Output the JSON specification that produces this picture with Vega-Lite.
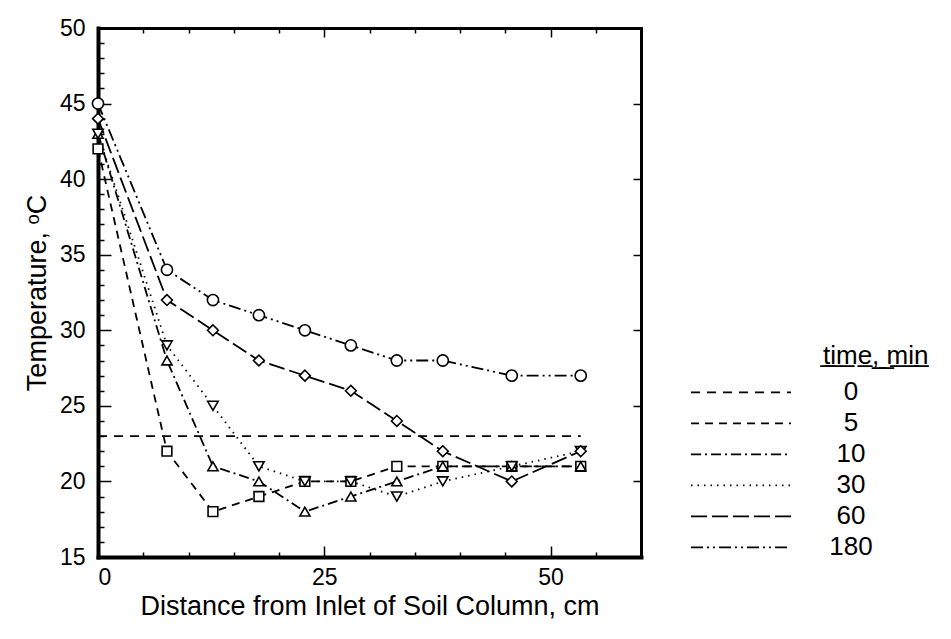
{
  "$schema": "https://vega.github.io/schema/vega-lite/v6.json",
  "width": 543,
  "height": 529,
  "autosize": "none",
  "padding": {"left": 98, "top": 28, "right": 310, "bottom": 82},
  "background": "white",
  "title": {"text": "t̲i̲m̲e̲,̲ ̲m̲i̲n̲", "anchor": "start", "frame": "group", "orient": "top", "offset": 0, "dx": 725, "dy": 373, "baseline": "alphabetic", "fontSize": 26, "fontWeight": "normal", "font": "Liberation Sans", "color": "black"},
  "config": {
    "view": {"stroke": null},
    "font": "Liberation Sans",
    "axis": {"labelColor": "black", "titleColor": "black", "tickColor": "black", "domainColor": "black", "labelFontSize": 23, "titleFontSize": 27, "titleFontWeight": "normal", "tickWidth": 1.5, "grid": false, "domainCap": "square"},
    "legend": {"labelColor": "black", "titleColor": "black", "labelFontSize": 26, "titleFontSize": 26, "titleFontWeight": "normal"}
  },
  "data": {
    "values": [
      {"t": "0", "x": 0, "y": 23}, {"t": "0", "x": 53.34, "y": 23},
      {"t": "5", "x": 0, "y": 42}, {"t": "5", "x": 7.62, "y": 22}, {"t": "5", "x": 12.7, "y": 18}, {"t": "5", "x": 17.78, "y": 19}, {"t": "5", "x": 22.86, "y": 20}, {"t": "5", "x": 27.94, "y": 20}, {"t": "5", "x": 33.02, "y": 21}, {"t": "5", "x": 38.1, "y": 21}, {"t": "5", "x": 45.72, "y": 21}, {"t": "5", "x": 53.34, "y": 21},
      {"t": "10", "x": 0, "y": 43}, {"t": "10", "x": 7.62, "y": 28}, {"t": "10", "x": 12.7, "y": 21}, {"t": "10", "x": 17.78, "y": 20}, {"t": "10", "x": 22.86, "y": 18}, {"t": "10", "x": 27.94, "y": 19}, {"t": "10", "x": 33.02, "y": 20}, {"t": "10", "x": 38.1, "y": 21}, {"t": "10", "x": 45.72, "y": 21}, {"t": "10", "x": 53.34, "y": 21},
      {"t": "30", "x": 0, "y": 43}, {"t": "30", "x": 7.62, "y": 29}, {"t": "30", "x": 12.7, "y": 25}, {"t": "30", "x": 17.78, "y": 21}, {"t": "30", "x": 22.86, "y": 20}, {"t": "30", "x": 27.94, "y": 20}, {"t": "30", "x": 33.02, "y": 19}, {"t": "30", "x": 38.1, "y": 20}, {"t": "30", "x": 45.72, "y": 21}, {"t": "30", "x": 53.34, "y": 22},
      {"t": "60", "x": 0, "y": 44}, {"t": "60", "x": 7.62, "y": 32}, {"t": "60", "x": 12.7, "y": 30}, {"t": "60", "x": 17.78, "y": 28}, {"t": "60", "x": 22.86, "y": 27}, {"t": "60", "x": 27.94, "y": 26}, {"t": "60", "x": 33.02, "y": 24}, {"t": "60", "x": 38.1, "y": 22}, {"t": "60", "x": 45.72, "y": 20}, {"t": "60", "x": 53.34, "y": 22},
      {"t": "180", "x": 0, "y": 45}, {"t": "180", "x": 7.62, "y": 34}, {"t": "180", "x": 12.7, "y": 32}, {"t": "180", "x": 17.78, "y": 31}, {"t": "180", "x": 22.86, "y": 30}, {"t": "180", "x": 27.94, "y": 29}, {"t": "180", "x": 33.02, "y": 28}, {"t": "180", "x": 38.1, "y": 28}, {"t": "180", "x": 45.72, "y": 27}, {"t": "180", "x": 53.34, "y": 27}
    ]
  },
  "layer": [
    {
      "mark": {"type": "line", "color": "black", "strokeWidth": 1.8},
      "encoding": {
        "x": {
          "field": "x", "type": "quantitative",
          "scale": {"domain": [0, 60], "nice": false, "zero": false},
          "axis": {
            "orient": "bottom",
            "title": "Distance from Inlet of Soil Column, cm",
            "values": [0, 5, 10, 15, 20, 25, 30, 35, 40, 45, 50, 55],
            "tickSize": {"condition": {"test": "datum.value % 25 === 0", "value": -11}, "value": -5},
            "labelExpr": "datum.value % 25 === 0 ? datum.label : ''",
            "labelPadding": 20,
            "domainWidth": 4,
            "titlePadding": 4
          }
        },
        "y": {
          "field": "y", "type": "quantitative",
          "scale": {"domain": [15, 50], "nice": false, "zero": false},
          "axis": {
            "orient": "left",
            "title": "Temperature, ᵒC",
            "values": [15, 16, 17, 18, 19, 20, 21, 22, 23, 24, 25, 26, 27, 28, 29, 30, 31, 32, 33, 34, 35, 36, 37, 38, 39, 40, 41, 42, 43, 44, 45, 46, 47, 48, 49, 50],
            "tickSize": {"condition": {"test": "datum.value % 5 === 0", "value": -13}, "value": -6},
            "labelExpr": "datum.value % 5 === 0 ? datum.label : ''",
            "labelPadding": 26,
            "domainWidth": 4,
            "titlePadding": 8
          }
        },
        "strokeDash": {
          "field": "t", "type": "nominal",
          "scale": {"domain": ["0", "5", "10", "30", "60", "180"], "range": [[9, 7], [8, 6], [10, 4, 2, 4], [1.5, 5], [16, 5], [12, 4, 2, 4, 2, 4]]},
          "legend": {
            "orient": "none", "legendX": 592, "legendY": 349,
            "title": null,
            "symbolType": "stroke", "symbolSize": 10000, "symbolStrokeWidth": 1.8, "symbolStrokeColor": "black",
            "clipHeight": 30.6, "rowPadding": 0,
            "labelAlign": "center", "labelOffset": 59
          }
        }
      }
    },
    {
      "transform": [{"filter": "datum.t != '0'"}],
      "mark": {"type": "point", "filled": true, "fill": "white", "stroke": "black", "strokeWidth": 1.6, "opacity": 1},
      "encoding": {
        "x": {
          "field": "x", "type": "quantitative",
          "axis": {
            "orient": "top", "title": null, "labels": false,
            "values": [5, 10, 15, 20, 25, 30, 35, 40, 45, 50, 55],
            "tickSize": {"condition": {"test": "datum.value % 25 === 0", "value": -9}, "value": -5},
            "domainWidth": 3
          }
        },
        "y": {
          "field": "y", "type": "quantitative",
          "axis": {
            "orient": "right", "title": null, "labels": false,
            "values": [20, 25, 30, 35, 40, 45],
            "tickSize": -8,
            "domainWidth": 3
          }
        },
        "shape": {
          "field": "t", "type": "nominal",
          "scale": {"domain": ["5", "10", "30", "60", "180"], "range": ["square", "triangle-up", "triangle-down", "diamond", "circle"]},
          "legend": null
        },
        "size": {
          "field": "t", "type": "ordinal",
          "scale": {"domain": ["5", "10", "30", "60", "180"], "range": [95, 125, 125, 190, 190]},
          "legend": null
        }
      }
    }
  ],
  "resolve": {"axis": {"x": "independent", "y": "independent"}}
}
